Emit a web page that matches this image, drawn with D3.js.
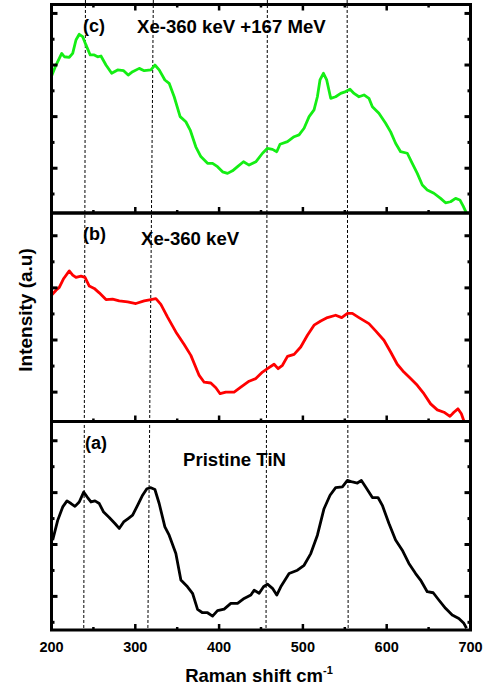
<!DOCTYPE html>
<html><head><meta charset="utf-8">
<script src="https://cdn.jsdelivr.net/npm/d3@7/dist/d3.min.js"></script>
<style>body{margin:0;background:#fff}svg{display:block}text{font-family:"Liberation Sans",Arial,sans-serif;font-weight:bold;fill:#000}</style>
</head><body><svg id="c" width="484" height="689"></svg>
<script>
// ---- data (Raman shift in cm^-1, intensity in arbitrary units) ----
const xTicks = [200, 300, 400, 500, 600, 700];
const xMinorTicks = [250, 350, 450, 550, 650];
const panelLabels = ["(c)", "(b)", "(a)"];
const panelTitles = ["Xe-360 keV +167 MeV", "Xe-360 keV", "Pristine TiN"];
const seriesColors = ["#14ee14", "#ff0000", "#000000"];
const dashTop = [240.5, 321.5, 457.6, 552.8];
const dashBottom = [238.5, 315, 456, 554];

const shiftC = [200,205.4,212.2,215.3,221.2,225.3,229.2,233.1,237.2,241.1,246.2,251,255.1,259,265,271.8,278.9,286.1,291.5,296.8,304.7,310.6,318.6,323.4,328.5,335.3,340.4,346.4,353.5,360.3,365.5,372.2,378.2,386.2,392.2,398.1,404.1,410.1,416,422,429.1,435.8,443.8,451.8,457.7,463.7,468.8,472.7,481.6,489.5,495.4,501.4,507.4,513.3,517.3,520.4,524.5,528.4,533.2,539.1,545.1,551.1,556.2,561,566.9,572.9,578.8,582.9,590.7,598.7,604.7,610.6,616.6,624.6,630.5,636.5,642.5,648.4,656.3,664.3,670.2,676.2,682.2,687.3,691.3,695.3];
const intensityC = [4.57,5.0,5.45,5.32,5.30,5.45,5.97,6.19,6.10,5.78,5.39,5.39,5.32,5.35,5.0,4.68,4.81,4.78,4.61,4.74,4.87,4.78,4.81,5.0,4.81,4.42,4.29,3.77,3.0,2.80,2.48,1.83,1.45,1.19,1.19,1.06,0.86,0.80,0.90,1.06,1.25,1.12,1.25,1.58,1.77,1.73,1.64,1.93,2.03,2.22,2.29,2.55,3.0,3.26,3.77,4.42,4.68,4.42,3.71,3.77,3.90,3.97,4.06,3.90,3.77,3.84,3.71,3.38,3.13,2.74,2.41,1.97,1.64,1.58,1.19,0.80,0.35,0.16,0.03,-0.17,-0.34,-0.30,-0.17,-0.23,-0.47,-0.75];

const shiftB = [200.2,205.4,209.3,214.6,221.2,225.3,229.2,235.2,240,245.1,251,257,265,272.9,280.8,290.8,300.7,310.6,318.6,324.6,330.5,338.5,348.4,358.3,366.3,376.2,382.2,390.1,396.1,401.2,408,417.9,425.9,435.8,443.8,451.8,457.7,465.6,470.4,475.6,481.6,489.5,497.4,505.4,513.3,521.3,529.3,539.1,546.3,553.1,559,566.9,578.8,586.8,596.7,604.7,612.6,620.5,628.5,636.5,644.4,652.4,660.4,668.3,675.5,680.2,685,689.1,693];
const intensityB = [3.72,3.91,4.02,4.36,4.65,4.49,4.40,4.45,4.40,4.07,3.98,3.81,3.55,3.57,3.50,3.46,3.40,3.50,3.55,3.59,3.37,2.88,2.31,1.83,1.41,0.64,0.38,0.35,0.17,-0.06,0.0,0.0,0.19,0.42,0.52,0.77,0.90,1.07,0.90,1.03,1.37,1.45,1.73,2.18,2.57,2.73,2.86,2.95,2.86,3.02,3.02,2.86,2.63,2.35,1.99,1.54,1.07,0.77,0.52,0.26,-0.06,-0.45,-0.68,-0.77,-0.93,-0.77,-0.64,-0.83,-1.19];

const shiftA = [201.4,207.4,213.4,218.5,223.3,228,233.1,238.4,243.1,247.1,251.9,257,262.2,268.9,275.7,280.8,286.1,291.5,296.8,302.7,308.7,313.8,318.6,323.4,328.5,335.3,340.4,348.4,354.4,362.3,368.3,374.3,380.2,386.2,392.2,398.1,406,414,422,429.9,437.9,441.8,447.8,453,457.7,463.7,468.8,473.6,483.5,493.5,501.4,509.4,517.3,525.2,532.4,539.1,547.1,553.1,559,565,569.8,574.9,582.9,589.6,594.8,602.7,610.6,618.6,626.5,634.5,640.4,648.4,655.5,662.2,670.2,678.2,686.1,692.1,695.3];
const intensityA = [3.17,3.93,4.45,4.68,4.58,4.47,4.64,5.02,4.81,4.64,4.68,4.58,4.25,4.04,3.81,3.62,3.87,4.0,4.13,4.51,4.90,5.15,5.19,5.12,4.58,3.68,3.36,2.65,1.63,1.37,1.12,0.50,0.37,0.37,0.24,0.45,0.51,0.73,0.73,0.92,1.05,1.24,1.12,1.37,1.47,1.31,1.05,1.37,1.88,2.01,2.20,2.65,3.36,4.38,4.90,5.19,5.22,5.47,5.41,5.37,5.47,5.22,4.81,4.81,4.51,3.81,3.17,2.78,2.27,1.88,1.63,1.18,1.14,0.86,0.54,0.28,0.15,-0.04,-0.23];

const yDomains = [[-0.736, 7.346], [-1.127, 6.873], [-0.296, 7.742]];
const yTickVals = [[0,1,2,3,4,5,6,7], [0,1,2,3,4,5,6], [0,1,2,3,4,5,6,7]];
const yMajorParity = [1, 0, 1];

// ---- layout ----
const svg = d3.select("#c");
const L = 51.5, R = 470.5;
const panelTop = [4.5, 213, 421.5];
const panelBot = [213, 421.5, 630];
const x = d3.scaleLinear().domain([200, 700]).range([L, R]);
const seriesX = [shiftC, shiftB, shiftA];
const seriesY = [intensityC, intensityB, intensityA];

const defs = svg.append("defs");

// dashed reference lines
const yAll = d3.scaleLinear().domain([0, 1]).range([0, panelBot[2]]);
dashTop.forEach((t, i) => {
  svg.append("line").attr("x1", x(t)).attr("x2", x(dashBottom[i]))
    .attr("y1", yAll(0)).attr("y2", yAll(1))
    .attr("stroke", "#000").attr("stroke-width", 1).attr("stroke-dasharray", "3,2");
});

for (let p = 0; p < 3; p++) {
  const y = d3.scaleLinear().domain(yDomains[p]).range([panelBot[p], panelTop[p]]);
  const g = svg.append("g");
  const cid = "clip" + p;
  defs.append("clipPath").attr("id", cid).append("rect")
    .attr("x", L).attr("y", panelTop[p]).attr("width", R - L).attr("height", panelBot[p] - panelTop[p]);
  const pts = seriesX[p].map((v, i) => [v, seriesY[p][i]]);
  g.append("path").datum(pts)
    .attr("clip-path", "url(#" + cid + ")")
    .attr("fill", "none").attr("stroke", seriesColors[p]).attr("stroke-width", 2.8)
    .attr("stroke-linejoin", "round")
    .attr("d", d3.line().x(d => x(d[0])).y(d => y(d[1])));

  // y ticks (left & right, inward)
  yTickVals[p].forEach(v => {
    const len = (v % 2 === yMajorParity[p]) ? 6 : 3;
    g.append("line").attr("x1", L).attr("x2", L + len).attr("y1", y(v)).attr("y2", y(v))
      .attr("stroke", "#000").attr("stroke-width", 3);
    g.append("line").attr("x1", R).attr("x2", R - len).attr("y1", y(v)).attr("y2", y(v))
      .attr("stroke", "#000").attr("stroke-width", 3);
  });
  // x ticks at bottom of panel (inward)
  xTicks.concat(xMinorTicks).forEach(v => {
    const len = xTicks.includes(v) ? 6 : 3;
    g.append("line").attr("x1", x(v)).attr("x2", x(v)).attr("y1", panelBot[p]).attr("y2", panelBot[p] - len)
      .attr("stroke", "#000").attr("stroke-width", 2.5);
    if (p === 0) {
      g.append("line").attr("x1", x(v)).attr("x2", x(v)).attr("y1", panelTop[p]).attr("y2", panelTop[p] + len)
        .attr("stroke", "#000").attr("stroke-width", 2.5);
    }
  });
  // frame
  g.append("rect").attr("x", L).attr("y", panelTop[p]).attr("width", R - L).attr("height", panelBot[p] - panelTop[p])
    .attr("fill", "none").attr("stroke", "#000").attr("stroke-width", 3);
}

// panel labels & titles
const labelPos = [[83, 32], [83, 240], [85, 449]];
const titlePos = [[137, 33], [141, 245], [183, 466]];
panelLabels.forEach((t, i) => {
  svg.append("text").attr("x", labelPos[i][0]).attr("y", labelPos[i][1]).attr("font-size", 18).text(t);
  svg.append("text").attr("x", titlePos[i][0]).attr("y", titlePos[i][1]).attr("font-size", 18.6).text(panelTitles[i]);
});

// x tick labels
xTicks.forEach(v => {
  svg.append("text").attr("x", x(v)).attr("y", 652).attr("text-anchor", "middle").attr("font-size", 14.5).text(v);
});

// axis labels
const xl = svg.append("text").attr("x", 259).attr("y", 682).attr("text-anchor", "middle").attr("font-size", 18.5);
xl.append("tspan").text("Raman shift cm");
xl.append("tspan").attr("dy", -8).attr("font-size", 11).text("-1");

svg.append("text").attr("transform", "translate(31.5,310) rotate(-90)").attr("text-anchor", "middle")
  .attr("font-size", 19).text("Intensity (a.u)");
</script></body></html>
